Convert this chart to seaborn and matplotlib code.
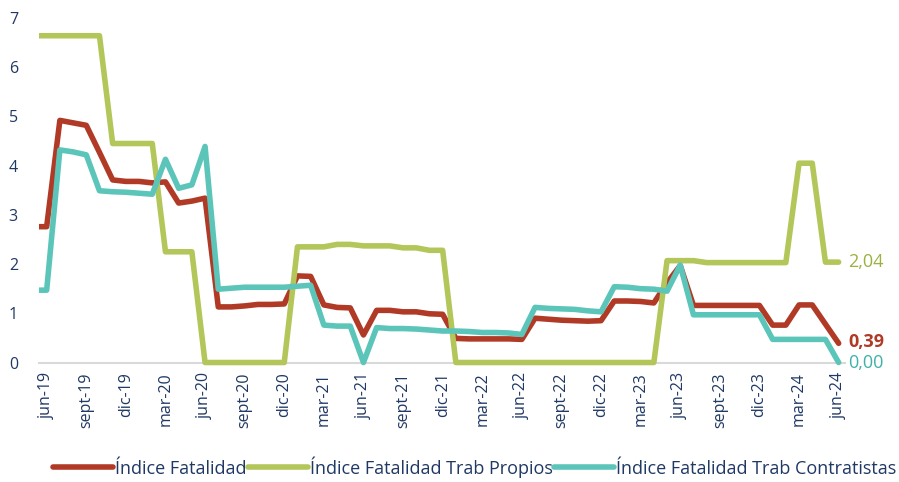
#! /usr/bin/env python3

import numpy as np
import pandas as pd
import seaborn as sns
import matplotlib.pyplot as plt
from matplotlib.transforms import Bbox, TransformedBbox

# meses desde may-19 (solo para el tramo recortado a la izquierda) hasta jun-24
meses = ['may', 'jun', 'jul', 'ago', 'sept', 'oct', 'nov', 'dic',
         'ene', 'feb', 'mar', 'abr']
periodos = []
for k in range(62):
    anio = 19 + (4 + k) // 12
    periodos.append(f'{meses[k % 12]}-{anio}')

fatalidad = [2.76,
             2.76, 4.92, 4.87, 4.82, 4.27, 3.71, 3.68, 3.68, 3.65, 3.67,
             3.24, 3.28, 3.34, 1.13, 1.13, 1.15, 1.18, 1.18, 1.19, 1.76,
             1.75, 1.17, 1.12, 1.11, 0.56, 1.06, 1.06, 1.03, 1.03, 0.99,
             0.98, 0.49, 0.48, 0.48, 0.48, 0.48, 0.47, 0.90, 0.88, 0.86,
             0.85, 0.84, 0.85, 1.25, 1.25, 1.24, 1.21, 1.62, 1.97, 1.16,
             1.16, 1.16, 1.16, 1.16, 1.16, 0.76, 0.76, 1.17, 1.17, 0.78,
             0.39]

propios = [6.64,
           6.64, 6.64, 6.64, 6.64, 6.64, 4.45, 4.45, 4.45, 4.45, 2.25,
           2.25, 2.25, 0.00, 0.00, 0.00, 0.00, 0.00, 0.00, 0.00, 2.35,
           2.35, 2.35, 2.40, 2.40, 2.37, 2.37, 2.37, 2.33, 2.33, 2.28,
           2.28, 0.00, 0.00, 0.00, 0.00, 0.00, 0.00, 0.00, 0.00, 0.00,
           0.00, 0.00, 0.00, 0.00, 0.00, 0.00, 0.00, 2.07, 2.07, 2.07,
           2.03, 2.03, 2.03, 2.03, 2.03, 2.03, 2.03, 4.05, 4.05, 2.04,
           2.04]

contratistas = [1.47,
                1.47, 4.32, 4.28, 4.22, 3.49, 3.47, 3.46, 3.44, 3.42, 4.13,
                3.54, 3.61, 4.39, 1.49, 1.51, 1.53, 1.53, 1.53, 1.53, 1.55,
                1.57, 0.76, 0.74, 0.74, 0.00, 0.71, 0.69, 0.69, 0.68, 0.66,
                0.64, 0.64, 0.63, 0.61, 0.61, 0.60, 0.57, 1.12, 1.10, 1.09,
                1.08, 1.05, 1.03, 1.54, 1.53, 1.50, 1.49, 1.45, 1.98, 0.97,
                0.97, 0.97, 0.97, 0.97, 0.97, 0.47, 0.47, 0.47, 0.47, 0.47,
                0.00]

series = ['Índice Fatalidad', 'Índice Fatalidad Trab Propios',
          'Índice Fatalidad Trab Contratistas']
colores = {series[0]: '#B03A26', series[1]: '#B2C65A', series[2]: '#5CC5BA'}
etiquetas_fin = [('0,39', 0.42, '#B03A26', 'bold'),
                 ('2,04', 2.04, '#9BB140', 'normal'),
                 ('0,00', 0.0, '#3FB2A5', 'normal')]

navy = '#1F3864'

df = pd.DataFrame({'idx': np.arange(len(periodos)), 'periodo': periodos,
                   series[0]: fatalidad, series[1]: propios,
                   series[2]: contratistas})
df_long = df.melt(id_vars=['idx', 'periodo'], var_name='serie',
                  value_name='valor')

sns.set_style('white')
plt.rcParams['font.family'] = ['Open Sans', 'DejaVu Sans']

fig = plt.figure(figsize=(8.99, 4.82), dpi=100)
ax = fig.add_axes([0.0431, 0.2479, 0.8971, 0.7147])

sns.lineplot(data=df_long, x='idx', y='valor', hue='serie',
             hue_order=series, palette=colores, linewidth=4.0,
             legend=False, ax=ax)

# recorte solo horizontal, para que la línea en 0 se vea completa
clip = TransformedBbox(Bbox([[0, -0.1], [1, 1.1]]), ax.transAxes)
for ln in ax.lines:
    ln.set_solid_joinstyle('round')
    ln.set_solid_capstyle('round')
    ln.set_clip_box(clip)

ax.set_xlim(0.4, 61.5)
ax.set_ylim(0, 7)
ax.set(xlabel='', ylabel='')

pos = list(range(1, 62, 3))
ax.set_xticks(pos)
ax.set_xticklabels([periodos[p] for p in pos], rotation=90,
                   fontsize=11.5, color=navy)
ax.set_xticks(np.arange(0.5, 61, 3), minor=True)
ax.tick_params(axis='x', which='major', length=0, pad=7)
ax.tick_params(axis='x', which='minor', length=4, width=1.2,
               color='#D9D9D9', direction='out')
ax.set_yticks(range(0, 8))
ax.set_yticklabels([str(v) for v in range(0, 8)], fontsize=11.5, color=navy)
ax.tick_params(axis='y', length=0, pad=15)

for s in ['top', 'right', 'left']:
    ax.spines[s].set_visible(False)
ax.spines['bottom'].set_color('#D9D9D9')
ax.spines['bottom'].set_linewidth(1.5)
ax.spines['bottom'].set_zorder(0)

for texto, y, c, w in etiquetas_fin:
    ax.text(61.7, y, texto, color=c, fontsize=13, fontweight=w,
            va='center', ha='left')

fig.legend(handles=ax.lines[:3], labels=series, loc='center',
           bbox_to_anchor=(0.528, 0.031), ncol=3, frameon=False,
           fontsize=13, labelcolor=navy, handlelength=3.3,
           handletextpad=0.1, columnspacing=0.1)

plt.savefig('out.png', dpi=100)
